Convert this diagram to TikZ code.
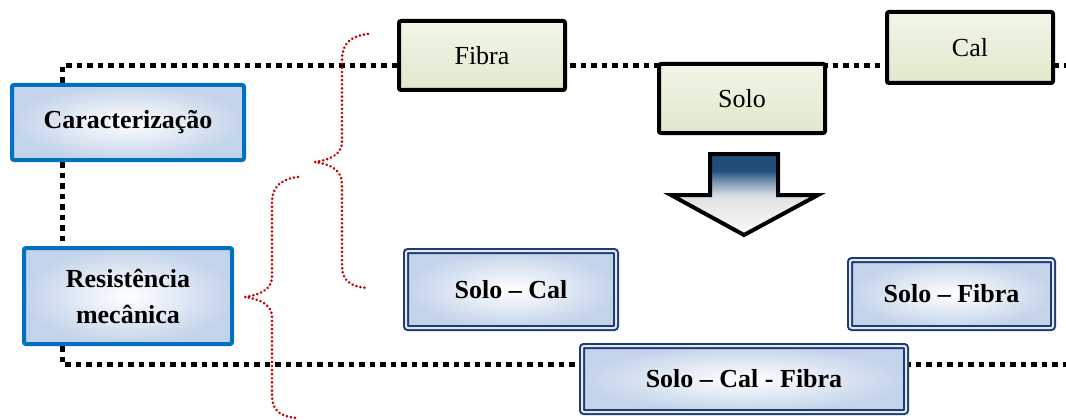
\documentclass[tikz,border=0pt]{standalone}
\usepackage{fontspec}
\setmainfont{Liberation Serif}
\usepackage{xcolor}
\usetikzlibrary{positioning,backgrounds}
\definecolor{stageblue}{HTML}{0070C0}
\definecolor{mixnavy}{HTML}{1F3B73}
\definecolor{paleblue}{HTML}{C3D4EA}
\definecolor{greentop}{HTML}{F2F6E8}
\definecolor{greenbot}{HTML}{DFE8CB}
\definecolor{dotred}{HTML}{C00000}
\definecolor{arrowtop}{HTML}{1F4E79}
\pgfdeclareverticalshading{arrowshade}{100bp}{%
  color(0bp)=(gray!4); color(25bp)=(gray!4); color(46bp)=(gray!20);
  color(50bp)=(arrowtop!20!white); color(58bp)=(arrowtop!60!white);
  color(65bp)=(arrowtop); color(100bp)=(arrowtop)}

\begin{document}
\begin{tikzpicture}[%
    x=1pt,
    y=-1pt,
    node distance=84pt,
    font=\fontsize{26}{36}\selectfont,
    stage/.style={%
      rectangle,
      rounded corners=2pt,
      draw=stageblue,
      line width=4pt,
      inner color=white,
      outer color=paleblue,
      align=center,
      font=\fontsize{26}{36}\selectfont\bfseries
    },
    material/.style={%
      rectangle,
      rounded corners=2pt,
      draw=black,
      line width=4pt,
      top color=greentop,
      bottom color=greenbot,
      minimum width=166pt,
      minimum height=69pt
    },
    mix/.style={%
      rectangle,
      rounded corners=2pt,
      draw=mixnavy,
      line width=2pt,
      double=paleblue!50,
      double distance=2pt,
      inner color=white,
      outer color=paleblue,
      font=\fontsize{26}{36}\selectfont\bfseries
    },
    link/.style={%
      draw=black,
      line width=5pt,
      dash pattern=on 5.5pt off 5pt
    },
    curly/.style={%
      draw=dotred,
      line width=2.8pt,
      line cap=round,
      dash pattern=on 0.1pt off 4pt
    }
  ]
    \useasboundingbox (0,0) rectangle (1066,420);

    \node[stage, minimum width=232pt, minimum height=75pt] (carac) at (128,122.5) {Caracterização};
    \node[stage, minimum width=208pt, minimum height=96pt] (resist) [below=of carac] {Resistência\\mecânica};

    \node[material] (fibra) at (482,55.5) {Fibra};
    \node[material] (solo)  at (742,98.5) {Solo};
    \node[material, minimum height=71pt] (cal) at (970,47.5) {Cal};

    \node[mix, minimum width=210pt, minimum height=77pt] (solocal)   at (511,289.5) {Solo – Cal};
    \node[mix, minimum width=203pt, minimum height=68pt] (solofibra) at (951.5,294) {Solo – Fibra};
    \node[mix, minimum width=324pt, minimum height=66pt] (solocalfibra) at (744,379) {Solo – Cal - Fibra};

    \coordinate (tl) at (62,66);
    \coordinate (tr) at (1066,66);
    \coordinate (bl) at (62,364);
    \coordinate (br) at (1066,364);

    \begin{pgfonlayer}{background}
      \draw[link] (carac.north -| tl) -- (tl) -- (tr);
      \draw[link] (carac.south -| tl) -- (resist.north -| tl);
      \draw[link] (resist.south -| tl) -- (bl) -- (br);
    \end{pgfonlayer}

    % braces
    \draw[curly] (368,34) .. controls (350,36) and (342,44) .. (342,60) -- (342,142)
                 .. controls (342,154) and (330,160) .. (315,162)
                 .. controls (330,164) and (342,170) .. (342,184) -- (342,266)
                 .. controls (342,280) and (350,287) .. (368,288);
    \draw[curly] (298,177) .. controls (280,179) and (272,188) .. (272,202) -- (272,277)
                 .. controls (272,289) and (260,295) .. (245,297)
                 .. controls (260,299) and (272,305) .. (272,317) -- (272,396)
                 .. controls (272,410) and (280,417) .. (298,418);

    % arrow
    \draw[line width=4pt, shading=arrowshade]
      (710,154) -- (778,154) -- (778,195) -- (818,195) -- (744,235)
      -- (671,195) -- (710,195) -- cycle;
\end{tikzpicture}
\end{document}
